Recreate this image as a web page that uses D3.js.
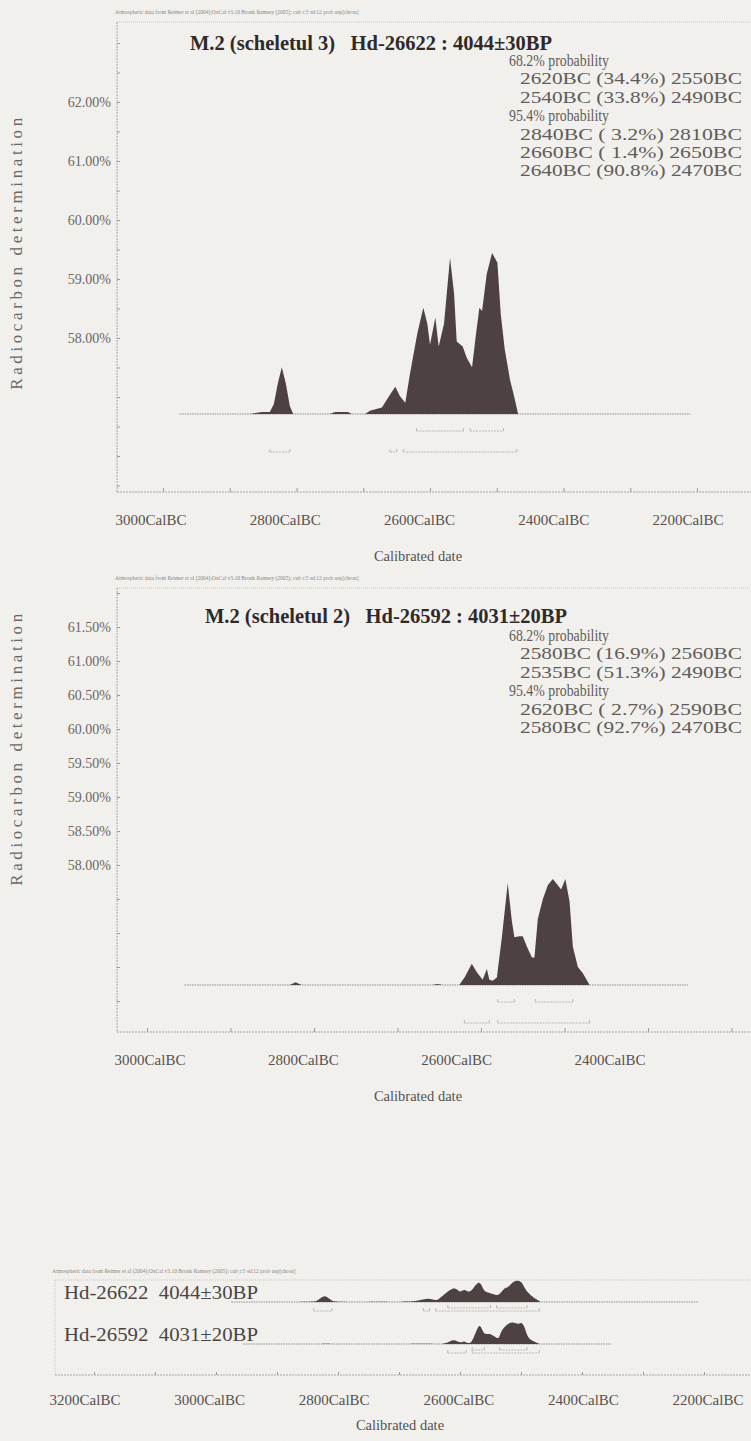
<!DOCTYPE html>
<html>
<head>
<meta charset="utf-8">
<script src="https://cdn.jsdelivr.net/npm/d3@7"></script>
<style>
  body { margin: 0; background: #f2f1ee; }
  svg { display: block; }
  text { font-family: "Liberation Serif", "DejaVu Serif", serif; white-space: pre; }
</style>
</head>
<body>
<div id="visualContainer"></div>
<script>
// ---- data ----
var headerText = "Atmospheric data from Reimer et al (2004);OxCal v3.10 Bronk Ramsey (2005); cub r:5 sd:12 prob usp[chron]";

// Hd-26622 (scheletul 3) posterior, cal BC years and relative probability
var s3Years = [2870, 2852, 2840, 2834, 2828, 2822, 2816, 2810, 2805, 2750, 2742, 2723, 2717, 2697, 2690, 2672, 2660, 2652, 2645, 2637, 2630, 2619, 2610, 2604, 2600, 2592, 2587, 2579, 2570, 2564, 2560, 2551, 2545, 2537, 2531, 2526, 2522, 2515, 2507, 2499, 2494, 2488, 2480, 2474, 2468];
var s3Prob  = [0, 0.012, 0.012, 0.06, 0.19, 0.29, 0.19, 0.05, 0, 0, 0.012, 0.012, 0, 0, 0.02, 0.04, 0.12, 0.17, 0.11, 0.07, 0.25, 0.50, 0.66, 0.56, 0.43, 0.60, 0.42, 0.56, 0.97, 0.75, 0.45, 0.42, 0.35, 0.29, 0.50, 0.66, 0.64, 0.87, 1.00, 0.94, 0.62, 0.40, 0.21, 0.11, 0];
var s3Range68 = [[2620, 2550], [2540, 2490]];
var s3Range95 = [[2840, 2810], [2660, 2650], [2640, 2470]];
var s3Span = [2975, 2210];
var s3Lines = ["68.2% probability", "2620BC (34.4%) 2550BC", "2540BC (33.8%) 2490BC", "95.4% probability", "2840BC ( 3.2%) 2810BC", "2660BC ( 1.4%) 2650BC", "2640BC (90.8%) 2470BC"];

// Hd-26592 (scheletul 2)
var s2Years = [2829, 2822, 2815, 2658, 2652, 2646, 2626, 2619, 2611, 2605, 2598, 2593, 2590, 2586, 2581, 2575, 2568, 2563, 2560, 2554, 2550, 2545, 2539, 2536, 2532, 2526, 2520, 2514, 2508, 2504, 2499, 2494, 2490, 2484, 2478, 2470];
var s2Prob  = [0, 0.025, 0, 0, 0.01, 0, 0, 0.08, 0.20, 0.12, 0.05, 0.15, 0.05, 0.04, 0.07, 0.45, 0.96, 0.60, 0.45, 0.46, 0.46, 0.36, 0.26, 0.26, 0.62, 0.81, 0.94, 1.00, 0.94, 0.90, 1.00, 0.79, 0.36, 0.17, 0.11, 0];
var s2Range68 = [[2580, 2560], [2535, 2490]];
var s2Range95 = [[2620, 2590], [2580, 2470]];
var s2Span = [2955, 2352];
var s2Lines = ["68.2% probability", "2580BC (16.9%) 2560BC", "2535BC (51.3%) 2490BC", "95.4% probability", "2620BC ( 2.7%) 2590BC", "2580BC (92.7%) 2470BC"];

var ticks1 = [3000, 2800, 2600, 2400, 2200];
var pct1 = [62, 61, 60, 59, 58];
var ticks2 = [3000, 2800, 2600, 2400];
var pct2 = [61.5, 61, 60.5, 60, 59.5, 59, 58.5, 58];
var ticks3 = [3200, 3000, 2800, 2600, 2400, 2200];

var ink = "#4d4141";

var svg = d3.select("#visualContainer").append("svg")
  .attr("width", 751).attr("height", 1441);

// paper grain
var grain = svg.append("filter").attr("id", "grain");
grain.append("feTurbulence").attr("type", "fractalNoise").attr("baseFrequency", 0.9).attr("numOctaves", 2).attr("seed", 3);
grain.append("feColorMatrix").attr("values", "0 0 0 0 0.5  0 0 0 0 0.5  0 0 0 0 0.5  0 0 0 0.07 0");
svg.append("rect").attr("width", 751).attr("height", 1441).attr("fill", "#f3f2ef");
svg.append("rect").attr("width", 751).attr("height", 1441).attr("filter", "url(#grain)");

function pts(years, probs) {
  return years.map(function(y, i) { return {yr: y, p: probs[i]}; });
}

function bars(g, x, ranges, yy) {
  ranges.forEach(function(r) {
    g.append("line").attr("x1", x(r[0])).attr("x2", x(r[1])).attr("y1", yy).attr("y2", yy)
      .attr("stroke", "#bdb9b4").attr("stroke-width", 1).attr("stroke-dasharray", "2,1");
    [r[0], r[1]].forEach(function(e) {
      g.append("line").attr("x1", x(e)).attr("x2", x(e)).attr("y1", yy - 3).attr("y2", yy)
        .attr("stroke", "#bdb9b4").attr("stroke-width", 1);
    });
  });
}

function singlePlot(c) {
  var g = svg.append("g");
  var x = d3.scaleLinear().domain([3000, c.x2]).range([c.x0, c.x1]);
  var xl = d3.scaleLinear().domain([3000, c.x2]).range(c.labRange);   // where the printed labels sit
  var y = d3.scaleLinear().domain([58, c.pTop]).range([c.y58, c.yTop]);
  var h = d3.scaleLinear().domain([0, 1]).range([c.base, c.base - c.peak]);

  g.append("text").attr("x", 115).attr("y", c.top - 8).attr("font-size", 5.5).attr("fill", "#8a8784").text(headerText);
  g.append("line").attr("x1", 117).attr("x2", 751).attr("y1", c.top).attr("y2", c.top)
    .attr("stroke", "#c9c6c2").attr("stroke-dasharray", "1,1");

  // axes
  var yTicks = d3.range(54, 64.01, 0.5).filter(function(v) { return y(v) > c.top + 2 && y(v) < c.bottom - 2; });
  var yAx = g.append("g").attr("transform", "translate(117,0)")
    .call(d3.axisRight(y).tickValues(yTicks).tickSize(3).tickFormat(""));
  yAx.select(".domain").remove();
  yAx.selectAll("line").attr("stroke", "#9d9995");
  g.append("line").attr("x1", 117).attr("x2", 117).attr("y1", c.top).attr("y2", c.bottom)
    .attr("stroke", "#aaa6a2").attr("stroke-dasharray", "2,1");
  var xAx = g.append("g").attr("transform", "translate(0," + c.bottom + ")")
    .call(d3.axisTop(x).tickValues(d3.range(3100, 2100, -100).filter(function(t) { return x(t) > 117 && x(t) < 751; }))
      .tickSize(4).tickFormat(""));
  xAx.select(".domain").remove();
  xAx.selectAll("line").attr("stroke", "#9d9995");
  g.append("line").attr("x1", 117).attr("x2", 751).attr("y1", c.bottom).attr("y2", c.bottom)
    .attr("stroke", "#a9a5a1").attr("stroke-dasharray", "2,1");

  g.selectAll(".ylab").data(c.pct).enter().append("text")
    .attr("x", 111).attr("y", function(d) { return y(d) + 5; })
    .attr("text-anchor", "end").attr("font-size", 14).attr("fill", "#6b6764")
    .text(function(d) { return d.toFixed(2) + "%"; });
  g.selectAll(".xlab").data(c.ticks).enter().append("text")
    .attr("x", function(d) { return xl(d); }).attr("y", c.bottom + 33)
    .attr("text-anchor", "middle").attr("font-size", 15).attr("fill", "#56514f")
    .text(function(d) { return d + "CalBC"; });
  g.append("text").attr("x", 418).attr("y", c.bottom + 69).attr("text-anchor", "middle")
    .attr("font-size", 14.5).attr("fill", "#56514f").text("Calibrated date");
  g.append("text").attr("transform", "translate(22," + c.yTitle + ") rotate(-90)")
    .attr("text-anchor", "middle").attr("font-size", 17).attr("letter-spacing", 3.6)
    .attr("fill", "#6b6764").text("Radiocarbon determination");

  // baseline and distribution
  g.append("line").attr("x1", x(c.span[0])).attr("x2", x(c.span[1])).attr("y1", c.base).attr("y2", c.base)
    .attr("stroke", "#8f8a86").attr("stroke-dasharray", "1.5,1");
  g.append("path").datum(pts(c.years, c.prob))
    .attr("d", d3.area().x(function(d) { return x(d.yr); }).y0(c.base).y1(function(d) { return h(d.p); }))
    .attr("fill", ink);
  bars(g, x, c.r68, c.base + 17);
  bars(g, x, c.r95, c.base + 38);

  g.append("text").attr("x", c.titleX).attr("y", c.titleY).attr("font-size", 20.5).attr("font-weight", "bold")
    .attr("fill", "#2f2a29").text(c.title);
  g.selectAll(".prob").data(c.lines).enter().append("text")
    .attr("x", function(d) { return d.indexOf("probability") > 0 ? 509 : 520; })
    .attr("y", function(d, i) { return c.lineY + i * 18.4; })
    .attr("font-size", 16.5)
    .attr("fill", "#615c59")
    .attr("textLength", function(d) { return d.indexOf("probability") > 0 ? 100 : 222; })
    .attr("lengthAdjust", "spacingAndGlyphs")
    .text(function(d) { return d; });
}

singlePlot({
  top: 22, bottom: 492, x0: 163, x1: 697, x2: 2200, labRange: [151, 688], pTop: 62, y58: 338, yTop: 102,
  base: 414, peak: 161, years: s3Years, prob: s3Prob, r68: s3Range68, r95: s3Range95, span: s3Span,
  ticks: ticks1, pct: pct1, yTitle: 252,
  title: "M.2 (scheletul 3)   Hd-26622 : 4044±30BP", titleX: 190, titleY: 50,
  lines: s3Lines, lineY: 66
});

singlePlot({
  top: 588, bottom: 1032, x0: 147, x1: 648, x2: 2400, labRange: [150, 610], pTop: 61.5, y58: 865, yTop: 627,
  base: 985, peak: 106, years: s2Years, prob: s2Prob, r68: s2Range68, r95: s2Range95, span: s2Span,
  ticks: ticks2, pct: pct2, yTitle: 748,
  title: "M.2 (scheletul 2)   Hd-26592 : 4031±20BP", titleX: 205, titleY: 623,
  lines: s2Lines, lineY: 641
});

// ---- multiplot ----
var m = svg.append("g");
var x3 = d3.scaleLinear().domain([3200, 2200]).range([94, 704]);
var x3l = d3.scaleLinear().domain([3200, 2200]).range([85, 708]);
m.append("text").attr("x", 52).attr("y", 1273).attr("font-size", 5.5).attr("fill", "#8a8784").text(headerText);
m.append("line").attr("x1", 55).attr("x2", 751).attr("y1", 1280).attr("y2", 1280)
  .attr("stroke", "#c9c6c2").attr("stroke-dasharray", "1,1");
m.append("line").attr("x1", 55).attr("x2", 55).attr("y1", 1280).attr("y2", 1375)
  .attr("stroke", "#c9c6c2").attr("stroke-dasharray", "1,1");

var rows = [
  {name: "Hd-26622  4044±30BP", years: s3Years, prob: s3Prob, r68: s3Range68, r95: s3Range95, span: s3Span, base: 1302},
  {name: "Hd-26592  4031±20BP", years: s2Years, prob: s2Prob, r68: s2Range68, r95: s2Range95, span: s2Span, base: 1344}
];
rows.forEach(function(r) {
  var h = d3.scaleLinear().domain([0, 1]).range([r.base, r.base - 22]);
  m.append("line").attr("x1", x3(r.span[0])).attr("x2", x3(r.span[1])).attr("y1", r.base).attr("y2", r.base)
    .attr("stroke", "#8f8a86").attr("stroke-dasharray", "1.5,1");
  m.append("text").attr("x", 64).attr("y", r.base - 3).attr("font-size", 18).attr("fill", "#4a4543")
    .attr("textLength", 194).attr("lengthAdjust", "spacingAndGlyphs").text(r.name);
  m.append("path").datum(pts(r.years, r.prob))
    .attr("d", d3.area().x(function(d) { return x3(d.yr); }).y0(r.base).y1(function(d) { return h(d.p); }).curve(d3.curveBasis))
    .attr("fill", ink);
  bars(m, x3, r.r68, r.base + 6);
  bars(m, x3, r.r95, r.base + 9);
});

var ax3 = m.append("g").attr("transform", "translate(0,1375)")
  .call(d3.axisTop(x3).tickValues(d3.range(3200, 2150, -100)).tickSize(3).tickFormat(""));
ax3.select(".domain").remove();
ax3.selectAll("line").attr("stroke", "#9d9995");
m.append("line").attr("x1", 55).attr("x2", 751).attr("y1", 1375).attr("y2", 1375)
  .attr("stroke", "#a9a5a1").attr("stroke-dasharray", "2,1");
m.selectAll(".xlab").data(ticks3).enter().append("text")
  .attr("x", function(d) { return x3l(d); }).attr("y", 1405)
  .attr("text-anchor", "middle").attr("font-size", 15).attr("fill", "#56514f")
  .text(function(d) { return d + "CalBC"; });
m.append("text").attr("x", 400).attr("y", 1430).attr("text-anchor", "middle")
  .attr("font-size", 14.5).attr("fill", "#56514f").text("Calibrated date");
</script>
</body>
</html>
